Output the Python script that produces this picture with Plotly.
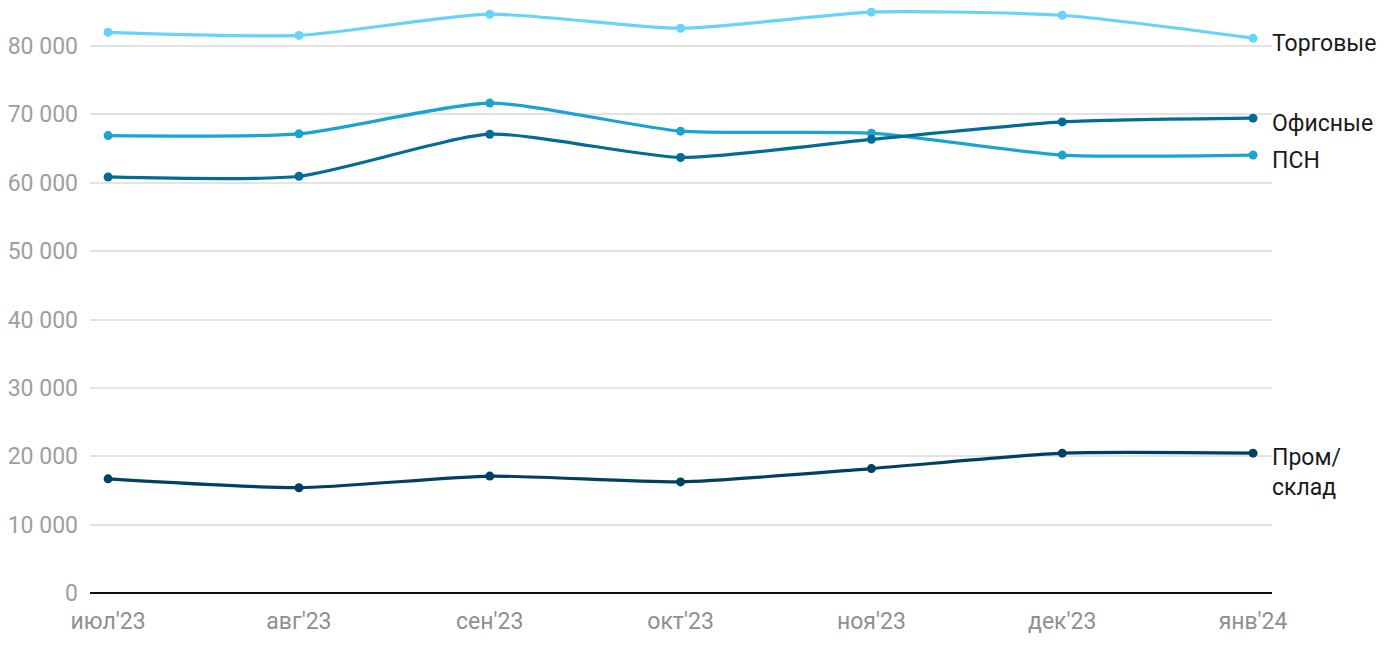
import plotly.graph_objects as go

months = ["июл'23", "авг'23", "сен'23", "окт'23", "ноя'23", "дек'23", "янв'24"]
torg = [82000, 81550, 84650, 82600, 84950, 84500, 81150]
ofis = [60850, 60950, 67100, 63700, 66350, 68900, 69450]
psn = [66900, 67150, 71650, 67550, 67250, 64050, 64050]
prom = [16700, 15400, 17100, 16250, 18200, 20450, 20450]

series = [
    ("Торговые", torg, "#66d4f8"),
    ("ПСН", psn, "#1ca4d1"),
    ("Офисные", ofis, "#026c94"),
    ("Пром/<br>склад", prom, "#033f63"),
]

x_idx = list(range(len(months)))
fig = go.Figure()
for name, vals, col in series:
    fig.add_trace(go.Scatter(
        x=x_idx, y=vals, mode="lines+markers", name=name,
        line=dict(color=col, width=3.2, shape="spline", smoothing=0.6),
        marker=dict(color=col, size=9),
        hoverinfo="y",
    ))

labels = [
    ("Торговые", torg[-1], -5),
    ("Офисные", ofis[-1], -5),
    ("ПСН", psn[-1], -5),
    ("Пром/<br>склад", prom[-1], -19),
]
for txt, yv, dy in labels:
    fig.add_annotation(
        x=6, y=yv, text=txt, showarrow=False, xanchor="left", yanchor="middle",
        xshift=17, yshift=dy, align="left",
        font=dict(family="Roboto, Arial, sans-serif", size=23, color="#1a1a1a"),
    )

fig.update_layout(
    width=1400, height=650,
    margin=dict(l=76, r=136, t=0, b=65),
    plot_bgcolor="white", paper_bgcolor="white",
    showlegend=False,
    separators=", ",
    font=dict(family="Roboto, Arial, sans-serif"),
)
fig.update_xaxes(
    range=[-0.095, 6.0993], tickmode="array", tickvals=x_idx, ticktext=months,
    showgrid=False, zeroline=False, showline=False,
    tickfont=dict(size=23, color="#8f8f8f"), ticks="", ticklabelstandoff=12,
)
fig.update_yaxes(
    range=[0, 85560], tickvals=[0, 10000, 20000, 30000, 40000, 50000, 60000, 70000, 80000],
    tickformat=",d", showgrid=True, gridcolor="#e3e3e3", gridwidth=1.5,
    zeroline=True, zerolinecolor="#111111", zerolinewidth=2,
    tickfont=dict(size=23, color="#9e9e9e"), ticks="", ticklabelstandoff=11,
)

fig.write_html("out.html")
